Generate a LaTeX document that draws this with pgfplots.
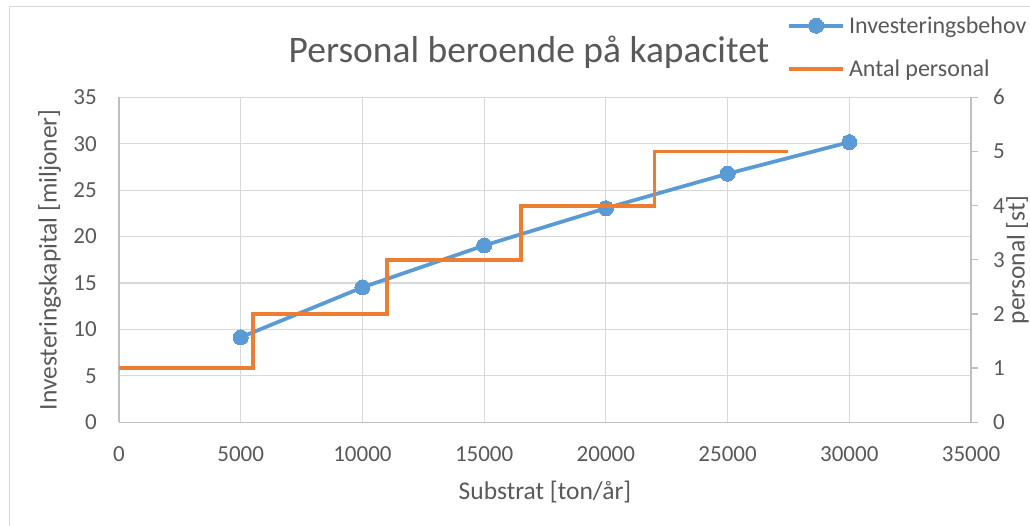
\documentclass[border=0pt]{standalone}
\usepackage{fontspec}
\setmainfont{Carlito}
\usepackage{pgfplots}
\pgfplotsset{compat=1.18}
\definecolor{xblue}{HTML}{5B9BD5}
\definecolor{xorange}{HTML}{ED7D31}
\definecolor{xgrid}{HTML}{D9D9D9}
\definecolor{xaxis}{HTML}{BFBFBF}
\definecolor{xtext}{HTML}{595959}
\begin{document}
\begin{tikzpicture}
\useasboundingbox (0,0) rectangle (1030pt,526pt);
\draw[xgrid, line width=1pt] (9pt,0pt) -- (9pt,519pt) -- (1030pt,519pt);
\begin{axis}[
  at={(119pt,103.7pt)}, anchor=south west,
  scale only axis, width=852pt, height=325pt,
  xmin=0, xmax=35000, ymin=0, ymax=35,
  xtick={0,5000,...,35000}, ytick={0,5,...,35},
  scaled x ticks=false, scaled y ticks=false,
  /pgf/number format/1000 sep={},
  /pgf/number format/assume math mode=true,
  grid=major, major grid style={xgrid, line width=1.2pt},
  axis x line*=bottom, axis y line*=left,
  axis line style={xaxis, line width=1.4pt, -},
  tick style={draw=none},
  tick label style={font=\fontsize{23}{27}\selectfont, text=xtext, inner sep=0pt},
  yticklabel style={xshift=-22pt},
  xticklabel style={yshift=-24pt},
  label style={font=\fontsize{25.5}{30}\selectfont, text=xtext, inner sep=0pt},
  xlabel={Substrat [ton/år]},
  ylabel={Investeringskapital [miljoner]},
  xlabel style={at={(axis description cs:0.5,-0.1806)}, anchor=north},
  ylabel style={at={(axis description cs:-0.0951,0.5)}, anchor=north},
  clip=false,
]
\addplot[xblue, line width=3.75pt, mark=*, mark size=7.5pt,
  mark options={solid, fill=xblue, draw=xblue, line width=0pt}]
  coordinates {(5000,9.15) (10000,14.53) (15000,19.04) (20000,23.05) (25000,26.77) (30000,30.17)};
\end{axis}
\begin{axis}[
  at={(119pt,103.7pt)}, anchor=south west,
  scale only axis, width=852pt, height=325pt,
  xmin=0, xmax=35000, ymin=0, ymax=6,
  axis x line=none, axis y line*=right,
  ytick={0,1,...,6},
  /pgf/number format/assume math mode=true,
  axis line style={xaxis, line width=1.4pt, -},
  ytick style={xaxis, line width=1.4pt},
  major tick length=7pt, tick align=outside,
  tick label style={font=\fontsize{23}{27}\selectfont, text=xtext, inner sep=0pt},
  yticklabel style={xshift=15pt},
  label style={font=\fontsize{25.5}{30}\selectfont, text=xtext, inner sep=0pt},
  ylabel={personal [st]},
  ylabel style={at={(axis description cs:1.0411,0.5)}, anchor=north},
  legend cell align=left,
  legend style={at={(axis description cs:0.7841,1.255)}, anchor=north west,
    draw=none, fill=none, inner sep=0pt, row sep=21pt,
    font=\fontsize{24}{28}\selectfont, text=xtext,
    /tikz/every odd column/.append style={column sep=2pt}},
  legend image code/.code={\draw[mark repeat=2, mark phase=2, #1] plot coordinates {(0pt,0pt) (27pt,0pt) (54pt,0pt)};},
]
\addlegendimage{xblue, line width=3.75pt, mark=*, mark size=7.5pt, mark options={solid, fill=xblue, draw=xblue, line width=0pt}}
\addlegendentry{Investeringsbehov}
\addplot[xorange, line width=3.75pt, const plot, mark=none]
  coordinates {(0,1) (5500,2) (11000,3) (16500,4) (22000,5) (27500,5)};
\addlegendentry{Antal personal}
\end{axis}
\node[font=\fontsize{37.5}{44}\selectfont, text=xtext, anchor=base] at (529pt,463pt) {Personal beroende på kapacitet};
\end{tikzpicture}
\end{document}
